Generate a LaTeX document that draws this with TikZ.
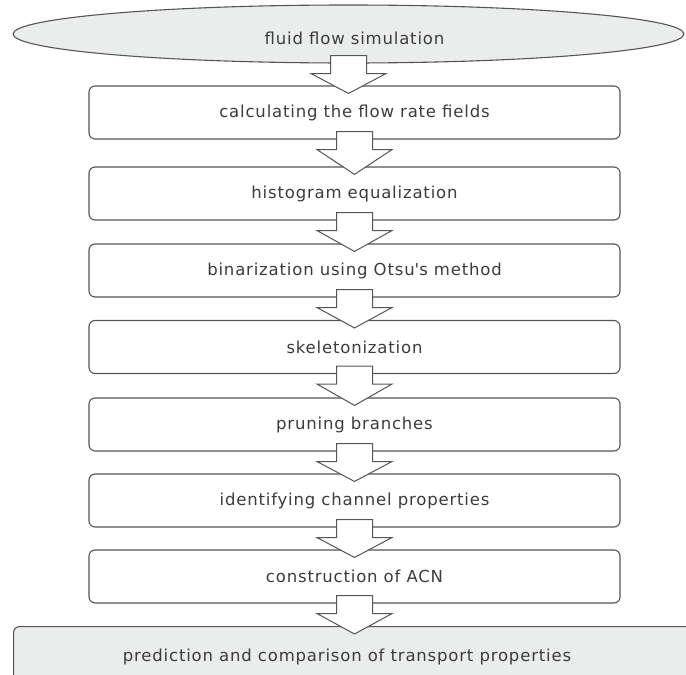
\documentclass[tikz,border=0pt]{standalone}
\usepackage{fontspec}
\setmainfont{DejaVu Sans}[LetterSpace=5]
\usetikzlibrary{shapes.geometric,calc}
\definecolor{linegray}{HTML}{555555}
\definecolor{txtgray}{HTML}{3C3C3C}
\definecolor{fillgray}{HTML}{EBECEC}
\tikzset{
  stepbox/.style={draw=linegray, line width=1.1pt, rounded corners=6pt, fill=white,
    minimum width=531pt, minimum height=53pt, inner sep=0pt, text=txtgray,
    font=\fontsize{16.5}{19}\selectfont},
  startell/.style={ellipse, draw=linegray, line width=1.1pt, fill=fillgray,
    minimum width=671pt, minimum height=58pt, inner sep=0pt},
  endbox/.style={draw=linegray, line width=1.1pt, rounded corners=6pt, fill=fillgray,
    minimum width=700pt, minimum height=80pt, inner sep=0pt},
  lbl/.style={text=txtgray, font=\fontsize{16.5}{19}\selectfont, inner sep=0pt},
  blockarr/.style={draw=linegray, line width=1pt, fill=white, line join=miter},
}
\newcommand{\blockarrow}[2]{%
  \draw[blockarr] let \p1=(#1.south), \p2=(#1.south |- #2.north) in
    (\x1-18pt,\y1+8pt) -- (\x1+18pt,\y1+8pt) -- (\x1+18pt,\y1-10pt) --
    (\x1+37.5pt,\y1-10pt) -- (\x1,\y2-8pt) -- (\x1-37.5pt,\y1-10pt) --
    (\x1-18pt,\y1-10pt) -- cycle;}
\begin{document}
\begin{tikzpicture}[x=1pt,y=1pt]
\useasboundingbox (0,0) rectangle (686,-675);
\node[startell] (sim) at (348.5,-34) {};
\node[lbl] (simtext) at (354.5,-38) {fluid flow simulation};
\node[stepbox] (b1) at (354.5,-112.5) {calculating the flow rate fields};
\node[stepbox] (b2) at (354.5,-193.5) {histogram equalization};
\node[stepbox] (b3) at (354.5,-270.5) {binarization using Otsu\textquotesingle s method};
\node[stepbox] (b4) at (354.5,-347) {skeletonization};
\node[stepbox] (b5) at (354.5,-424.5) {pruning branches};
\node[stepbox] (b6) at (354.5,-500.5) {identifying channel properties};
\node[stepbox] (b7) at (354.5,-576.5) {construction of ACN};
\node[endbox, anchor=north west] (predbox) at (13,-626) {};
\node[lbl] (pred) at (347,-657) {prediction and comparison of transport properties};
\blockarrow{sim}{b1}
\blockarrow{b1}{b2}
\blockarrow{b2}{b3}
\blockarrow{b3}{b4}
\blockarrow{b4}{b5}
\blockarrow{b5}{b6}
\blockarrow{b6}{b7}
\blockarrow{b7}{predbox}
\end{tikzpicture}
\end{document}
